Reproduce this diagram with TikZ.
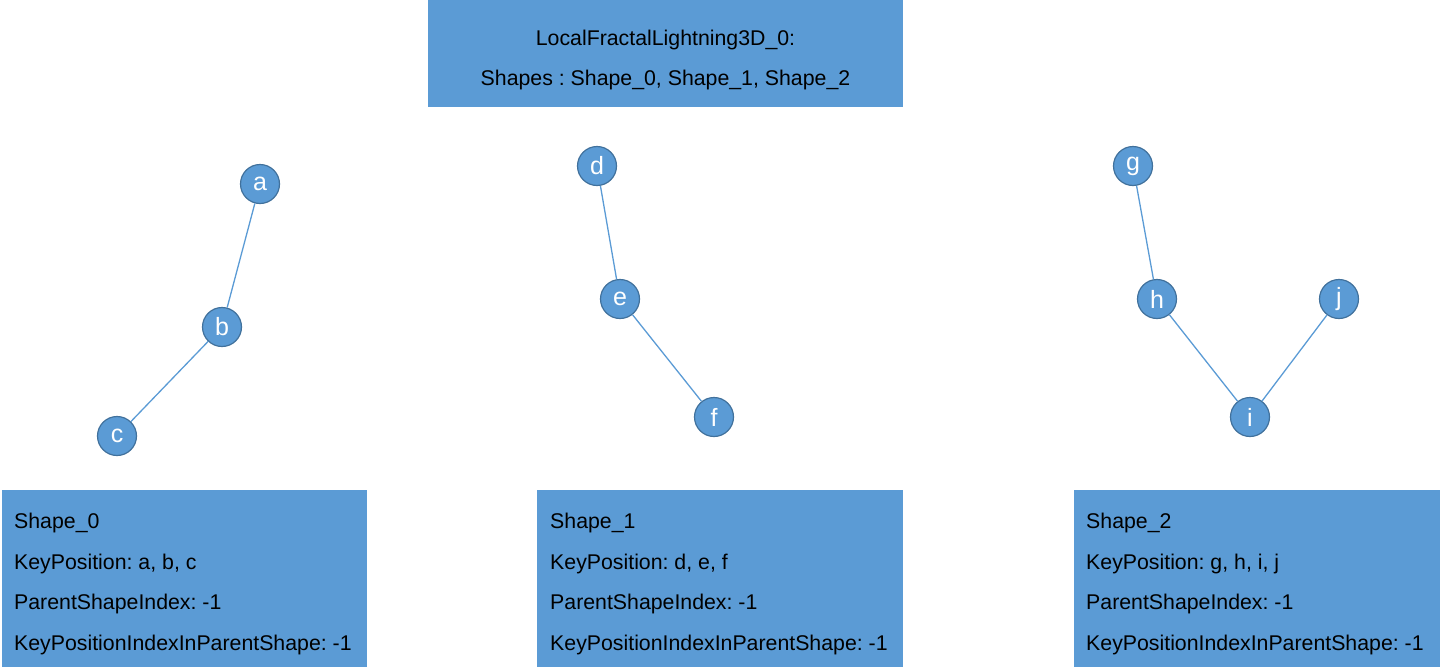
\documentclass[tikz,border=0pt]{standalone}
\usepackage{fontspec}
\setmainfont{Liberation Sans}
\definecolor{boxfill}{HTML}{5B9BD5}
\definecolor{circdraw}{HTML}{41719C}
\begin{document}
\frenchspacing
\begin{tikzpicture}[x=1pt,y=-1pt,
  infobox/.style={fill=boxfill, draw=none},
  boxtext/.style={anchor=west, inner sep=0pt, font=\fontsize{21.3}{21.3}\selectfont, text=black},
  toptext/.style={inner sep=0pt, font=\fontsize{21.3}{21.3}\selectfont, text=black},
  kp/.style={circle, fill=boxfill, draw=circdraw, line width=1.2pt, minimum size=39pt, inner sep=0pt, text=white, font=\fontsize{25}{25}\selectfont},
  link/.style={draw=boxfill, line width=1.3pt}]
\useasboundingbox (0,0) rectangle (1440,670);
% top box
\fill[infobox] (428,0) rectangle (903,107);
\node[toptext] (t1) at (665.5,40) {LocalFractalLightning3D\_0:};
\node[toptext] (t2) at (665.5,80) {Shapes : Shape\_0, Shape\_1, Shape\_2};
% bottom boxes
\fill[infobox] (2,490) rectangle (367,667);
\fill[infobox] (537,490) rectangle (903,667);
\fill[infobox] (1074,490) rectangle (1440,667);
\foreach \n/\x/\k in {0/14/{a, b, c},1/550/{d, e, f},2/1086/{g, h, i, j}}{
  \node[boxtext] (s\n a) at (\x,523) {Shape\_\n};
  \node[boxtext] (s\n b) at (\x,564) {KeyPosition: \k};
  \node[boxtext] (s\n c) at (\x,604) {ParentShapeIndex: -1};
  \node[boxtext] (s\n d) at (\x,645) {KeyPositionIndexInParentShape: -1};
}
% key positions
\node[kp] (a) at (260,184) {a};
\node[kp] (b) at (222,327) {b};
\node[kp] (c) at (117,436) {c};
\node[kp] (d) at (597,166) {d};
\node[kp] (e) at (620,299) {e};
\node[kp] (f) at (714,417) {f};
\node[kp] (g) at (1133,166) {g};
\node[kp] (h) at (1157,299) {h};
\node[kp] (i) at (1250,417) {i};
\node[kp] (j) at (1339,299) {j};
\draw[link] (a) -- (b);
\draw[link] (b) -- (c);
\draw[link] (d) -- (e);
\draw[link] (e) -- (f);
\draw[link] (g) -- (h);
\draw[link] (h) -- (i);
\draw[link] (i) -- (j);
\end{tikzpicture}
\end{document}
